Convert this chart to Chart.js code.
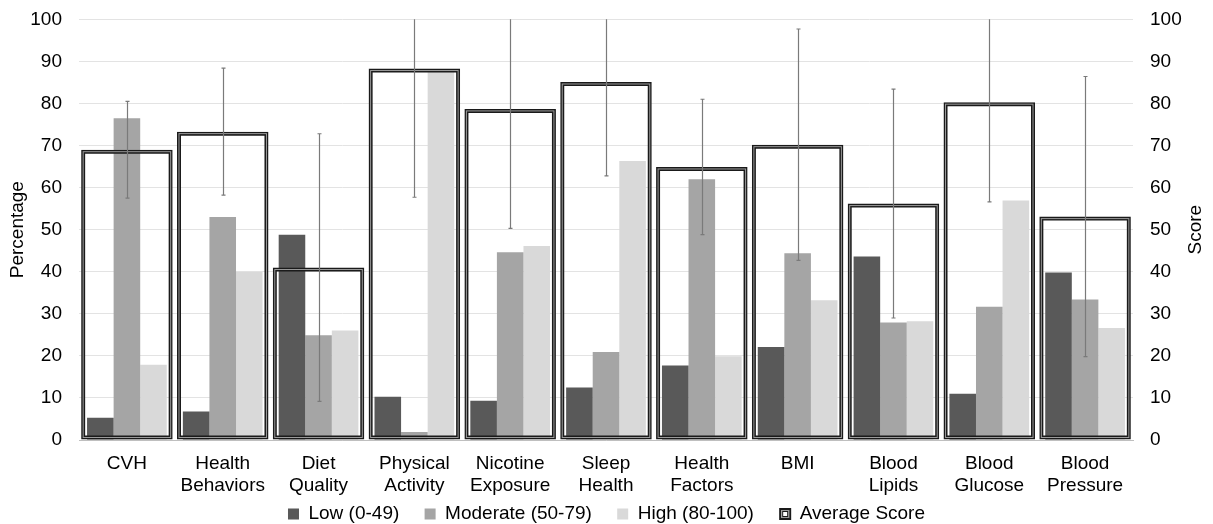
<!DOCTYPE html>
<html><head><meta charset="utf-8">
<script src="https://cdn.jsdelivr.net/npm/chart.js@4.4.1/dist/chart.umd.min.js"></script>
<style>html,body{margin:0;padding:0;background:#fff}#wrap{width:1213px;height:524px;position:relative}</style>
</head><body><div id="wrap"><canvas id="c"></canvas></div>
<script>
const categories = [["CVH"],["Health","Behaviors"],["Diet","Quality"],["Physical","Activity"],["Nicotine","Exposure"],["Sleep","Health"],["Health","Factors"],["BMI"],["Blood","Lipids"],["Blood","Glucose"],["Blood","Pressure"]];
const lowPct      = [5.3, 6.8, 48.8, 10.3, 9.3, 12.5, 17.7, 22.1, 43.6, 11.0, 39.8];
const moderatePct = [76.5, 53.0, 24.9, 1.9, 44.6, 20.9, 62.0, 44.4, 27.9, 31.7, 33.4];
const highPct     = [17.9, 40.0, 26.0, 87.7, 46.1, 66.3, 19.9, 33.2, 28.2, 56.9, 26.6];
const avgScore    = [69.0, 73.3, 41.0, 88.3, 78.7, 85.1, 64.9, 70.2, 56.2, 80.3, 53.1];
const scoreSD     = [11.5, 15.1, 31.8, 30.6, 28.4, 22.3, 16.1, 27.5, 27.2, 23.7, 33.3];
const seriesNames = ["Low (0-49)", "Moderate (50-79)", "High (80-100)", "Average Score"];
const axisMin = 0, axisMax = 100, axisStep = 10;

const FONT = '"Liberation Sans", Arial, Helvetica, sans-serif';
const FS = 19;

const extrasPlugin = {
  id: 'extras',
  afterLayout(chart) {
    chart.scales.x.bottom = chart.height;
  },
  afterDatasetsDraw(chart) {
    const ctx = chart.ctx;
    const area = chart.chartArea;
    const meta = chart.getDatasetMeta(3);
    const y1 = chart.scales.y1;
    ctx.save();
    meta.data.forEach(el => {
      const p = el.getProps(['x','y','base','width'], true);
      const left = p.x - p.width/2, top = Math.min(p.y, p.base), h = Math.abs(p.base - p.y);
      ctx.strokeStyle = '#9a9a9a';
      ctx.lineWidth = 1;
      ctx.strokeRect(left + 2, top + 2, p.width - 4, h - 4);
    });
    ctx.beginPath();
    ctx.rect(area.left, area.top, area.right - area.left, area.bottom - area.top);
    ctx.clip();
    ctx.strokeStyle = '#7a7a7a';
    ctx.lineWidth = 1.2;
    meta.data.forEach((el, i) => {
      const x = Math.round(el.x) + 0.5;
      const hi = y1.getPixelForValue(avgScore[i] + scoreSD[i]);
      const lo = y1.getPixelForValue(avgScore[i] - scoreSD[i]);
      ctx.beginPath();
      ctx.moveTo(x, hi); ctx.lineTo(x, lo);
      ctx.moveTo(x - 2, hi); ctx.lineTo(x + 2, hi);
      ctx.moveTo(x - 2, lo); ctx.lineTo(x + 2, lo);
      ctx.stroke();
    });
    ctx.restore();
  },
  afterDraw(chart) {
    const ctx = chart.ctx;
    const area = chart.chartArea;
    ctx.save();
    ctx.font = FS + 'px ' + FONT;
    ctx.fillStyle = '#000';
    ctx.textAlign = 'center';
    ctx.textBaseline = 'middle';
    ctx.translate(1196, (area.top + area.bottom) / 2);
    ctx.rotate(-Math.PI / 2);
    ctx.fillText('Score', 0, 0);
    ctx.restore();
    const lg = chart.legend;
    if (lg && lg.legendHitBoxes && lg.legendHitBoxes[3]) {
      const hb = lg.legendHitBoxes[3];
      const bw = 12, bh = 12;
      const bx = hb.left, by = hb.top + (FS - bh) / 2;
      ctx.save();
      ctx.fillStyle = '#fff';
      ctx.fillRect(bx, by, bw, bh);
      ctx.strokeStyle = '#1a1a1a'; ctx.lineWidth = 2;
      ctx.strokeRect(bx + 1, by + 1, bw - 2, bh - 2);
      ctx.strokeStyle = '#9a9a9a'; ctx.lineWidth = 1;
      ctx.strokeRect(bx + 2.5, by + 2.5, bw - 5, bh - 5);
      ctx.strokeStyle = '#1a1a1a'; ctx.lineWidth = 1;
      ctx.strokeRect(bx + 3.5, by + 3.5, bw - 7, bh - 7);
      ctx.restore();
    }
  }
};

const noVPad = s => { s.paddingTop = 0; s.paddingBottom = 0; };

new Chart(document.getElementById('c'), {
  data: {
    labels: categories,
    datasets: [
      { type: 'bar', label: seriesNames[0], data: lowPct, backgroundColor: '#595959', yAxisID: 'y', categoryPercentage: 0.832, barPercentage: 1, order: 1 },
      { type: 'bar', label: seriesNames[1], data: moderatePct, backgroundColor: '#a5a5a5', yAxisID: 'y', categoryPercentage: 0.832, barPercentage: 1, order: 1 },
      { type: 'bar', label: seriesNames[2], data: highPct, backgroundColor: '#d9d9d9', yAxisID: 'y', categoryPercentage: 0.832, barPercentage: 1, order: 1 },
      { type: 'bar', label: seriesNames[3], data: avgScore, backgroundColor: 'rgba(255,255,255,0)', borderColor: '#1a1a1a', borderWidth: 4, borderSkipped: false, yAxisID: 'y1', grouped: false, categoryPercentage: 1, barPercentage: 0.955, order: 0 }
    ]
  },
  options: {
    responsive: true,
    maintainAspectRatio: false,
    animation: false,
    events: [],
    layout: { padding: { top: 19.3, right: 0, bottom: 0, left: 0 } },
    font: { family: FONT, size: FS },
    scales: {
      x: {
        grid: { display: false, drawTicks: false },
        border: { display: true, color: '#bfbfbf', width: 1 },
        ticks: { color: '#000', font: { family: FONT, size: FS, lineHeight: 1.2 }, padding: 12, maxRotation: 0, autoSkip: false },
        afterFit: s => { s.height = 39.2; }
      },
      y: {
        position: 'left', min: axisMin, max: axisMax,
        grid: { color: '#e3e3e3', lineWidth: 1, drawTicks: false },
        border: { display: false },
        ticks: { stepSize: axisStep, color: '#000', font: { family: FONT, size: FS }, padding: 17 },
        title: { display: true, text: 'Percentage', color: '#000', font: { family: FONT, size: FS }, padding: { top: 6, bottom: 1.5 } },
        afterFit: s => { s.width = 79; noVPad(s); }
      },
      y1: {
        position: 'right', min: axisMin, max: axisMax,
        grid: { drawOnChartArea: false, drawTicks: false },
        border: { display: false },
        ticks: { stepSize: axisStep, color: '#000', font: { family: FONT, size: FS }, padding: 17 },
        afterFit: s => { s.width = 80; noVPad(s); }
      }
    },
    plugins: {
      tooltip: { enabled: false },
      legend: {
        position: 'bottom',
        maxHeight: 44.8,
        labels: {
          color: '#000',
          font: { family: FONT, size: FS },
          boxWidth: 11, boxHeight: 11, padding: 25.3,
          sort: (a, b) => a.datasetIndex - b.datasetIndex,
          generateLabels: (chart) => {
            const items = Chart.defaults.plugins.legend.labels.generateLabels(chart);
            items.forEach(it => {
              it.lineWidth = 0;
              if (it.datasetIndex === 3) { it.fillStyle = '#fff'; it.strokeStyle = '#fff'; }
            });
            return items;
          }
        }
      }
    }
  },
  plugins: [extrasPlugin]
});
</script></body></html>
